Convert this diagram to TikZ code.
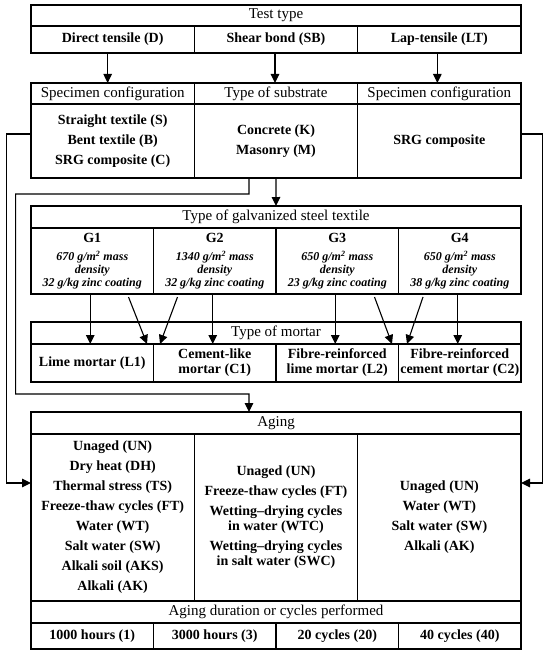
\documentclass[tikz,border=0pt]{standalone}
\usepackage{fontspec}
\setmainfont{Liberation Serif}
\usetikzlibrary{arrows.meta}
\newcommand{\galit}{\fontsize{12}{13}\selectfont\bfseries\itshape}
\begin{document}
\begin{tikzpicture}[x=1pt,y=-1pt,
  cell/.style={draw=black, line width=1.1pt, inner sep=0pt, outer sep=0pt, anchor=north west, align=center, font=\fontsize{15}{15}\selectfont},
  bcell/.style={cell, font=\fontsize{14}{15}\selectfont\bfseries},
  w3/.style={minimum width=163.33pt},
  w4/.style={minimum width=122.5pt},
  conn/.style={draw=black, line width=1.1pt},
  arr/.style={conn, -{Triangle[width=8.5pt,length=9pt]}}
]
\useasboundingbox (0,0) rectangle (550,655);
\fill[white] (0,0) rectangle (550,655);
% Test type
\node[cell, minimum width=490pt, minimum height=21pt] (tt) at (31,5) {Test type};
\node[bcell, w3, minimum height=27pt] (d) at (31,26) {Direct tensile (D)};
\node[bcell, w3, minimum height=27pt] (sb) at (194.33,26) {Shear bond (SB)};
\node[bcell, w3, minimum height=27pt] (lt) at (357.67,26) {Lap-tensile (LT)};
% second box
\node[cell, w3, minimum height=21pt] (h1) at (31,83) {Specimen configuration};
\node[cell, w3, minimum height=21pt] (h2) at (194.33,83) {Type of substrate};
\node[cell, w3, minimum height=21pt] (h3) at (357.67,83) {Specimen configuration};
\node[bcell, w3, minimum height=74pt] (b1) at (31,104) {Straight textile (S)\\[5pt]Bent textile (B)\\[5pt]SRG composite (C)};
\node[bcell, w3, minimum height=74pt] (b2) at (194.33,104) {Concrete (K)\\[5pt]Masonry (M)};
\node[bcell, w3, minimum height=74pt] (b3) at (357.67,104) {SRG composite};
% galvanized
\node[cell, minimum width=490pt, minimum height=22pt] (gh) at (31,206) {Type of galvanized steel textile};
\node[bcell, w4, minimum height=66pt] (g1) at (31,228) {G1\\[3pt]\galit 670 g/m\textsuperscript{2} mass\\[-2pt]\galit density\\[-2pt]\galit 32 g/kg zinc coating};
\node[bcell, w4, minimum height=66pt] (g2) at (153.5,228) {G2\\[3pt]\galit 1340 g/m\textsuperscript{2} mass\\[-2pt]\galit density\\[-2pt]\galit 32 g/kg zinc coating};
\node[bcell, w4, minimum height=66pt] (g3) at (276,228) {G3\\[3pt]\galit 650 g/m\textsuperscript{2} mass\\[-2pt]\galit density\\[-2pt]\galit 23 g/kg zinc coating};
\node[bcell, w4, minimum height=66pt] (g4) at (398.5,228) {G4\\[3pt]\galit 650 g/m\textsuperscript{2} mass\\[-2pt]\galit density\\[-2pt]\galit 38 g/kg zinc coating};
% mortar
\node[cell, minimum width=490pt, minimum height=22pt] (mh) at (31,322) {Type of mortar};
\node[bcell, w4, minimum height=38pt] (m1) at (31,344) {Lime mortar (L1)};
\node[bcell, w4, minimum height=38pt] (m2) at (153.5,344) {Cement-like\\mortar (C1)};
\node[bcell, w4, minimum height=38pt] (m3) at (276,344) {Fibre-reinforced\\lime mortar (L2)};
\node[bcell, w4, minimum height=38pt] (m4) at (398.5,344) {Fibre-reinforced\\cement mortar (C2)};
% aging
\node[cell, minimum width=490pt, minimum height=22pt] (agh) at (31,412) {Aging};
\node[bcell, w3, minimum height=167pt] (ag1) at (31,434) {Unaged (UN)\\[5pt]Dry heat (DH)\\[5pt]Thermal stress (TS)\\[5pt]Freeze-thaw cycles (FT)\\[5pt]Water (WT)\\[5pt]Salt water (SW)\\[5pt]Alkali soil (AKS)\\[5pt]Alkali (AK)};
\node[bcell, w3, minimum height=167pt] (ag2) at (194.33,434) {Unaged (UN)\\[5pt]Freeze-thaw cycles (FT)\\[5pt]Wetting--drying cycles\\in water (WTC)\\[5pt]Wetting--drying cycles\\in salt water (SWC)};
\node[bcell, w3, minimum height=167pt] (ag3) at (357.67,434) {Unaged (UN)\\[5pt]Water (WT)\\[5pt]Salt water (SW)\\[5pt]Alkali (AK)};
\node[cell, minimum width=490pt, minimum height=22pt] (dh) at (31,601) {Aging duration or cycles performed};
\node[bcell, w4, minimum height=26pt] (du1) at (31,623) {1000 hours (1)};
\node[bcell, w4, minimum height=26pt] (du2) at (153.5,623) {3000 hours (3)};
\node[bcell, w4, minimum height=26pt] (du3) at (276,623) {20 cycles (20)};
\node[bcell, w4, minimum height=26pt] (du4) at (398.5,623) {40 cycles (40)};
% connectors
\draw[arr] ([xshift=-5pt]d.south) -- ([xshift=-5pt]h1.north);
\draw[arr] ([xshift=-1pt]sb.south) -- ([xshift=-1pt]h2.north);
\draw[arr] ([xshift=-2pt]lt.south) -- ([xshift=-2pt]h3.north);
\draw[arr] (b2.south) -- (gh.north);
\draw[arr] ([yshift=7pt]b1.west) -- ++(-24.3,0) |- ([yshift=34.5pt]ag1.west);
\draw[arr] ([yshift=7pt]b3.east) -- ++(21.7,0) |- ([yshift=34.5pt]ag3.east);
\draw[arr] ([xshift=-27pt]b2.south) -- ++(0,16) -- ++(-233.3,0) -- ++(0,200) -- ++(233.3,0) -- ([xshift=-27pt]agh.north);
% galvanized to mortar
\draw[arr] ([xshift=-2pt]g1.south) -- ([xshift=-2pt]m1.north);
\draw[arr] ([xshift=-2pt]g2.south) -- ([xshift=-2pt]m2.north);
\draw[arr] ([xshift=-2pt]g3.south) -- ([xshift=-2pt]m3.north);
\draw[arr] ([xshift=-2pt]g4.south) -- ([xshift=-2pt]m4.north);
\draw[arr] ([xshift=-25pt,yshift=-3pt]g1.south east) -- ([xshift=-6.5pt]m1.north east);
\draw[arr] ([xshift=24pt,yshift=-3pt]g2.south west) -- ([xshift=6.5pt]m2.north west);
\draw[arr] ([xshift=-24pt,yshift=-3pt]g3.south east) -- ([xshift=-6.5pt]m3.north east);
\draw[arr] ([xshift=24.5pt,yshift=-3pt]g4.south west) -- ([xshift=8.5pt]m4.north west);
\end{tikzpicture}
\end{document}
